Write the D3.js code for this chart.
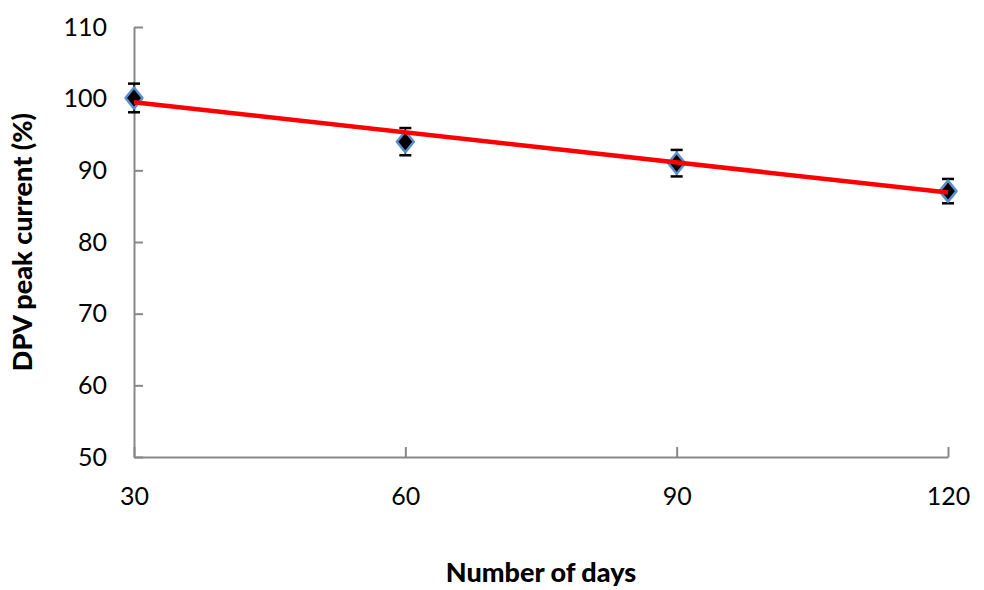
<!DOCTYPE html>
<html><head><meta charset="utf-8">
<script src="https://cdn.jsdelivr.net/npm/d3@7"></script>
<style>body{margin:0;background:#fff}svg{display:block}</style>
</head><body>
<svg id="c" width="984" height="590"></svg>
<script>
const days = [30, 60, 90, 120];
const current = [100.1, 94.0, 91.0, 87.1];
const errors = [2.0, 1.9, 1.85, 1.7];
const trendX = [30, 120];
const trendY = [99.5, 86.9];
const yTicks = [50, 60, 70, 80, 90, 100, 110];
const xTicks = [30, 60, 90, 120];

const svg = d3.select("#c");
const font = "Lato, 'Open Sans', sans-serif";
const x = d3.scaleLinear().domain([30, 120]).range([134, 948]);
const y = d3.scaleLinear().domain([50, 110]).range([457, 27]);

const gy = svg.append("g").attr("transform", "translate(134,0)")
  .call(d3.axisLeft(y).tickValues(yTicks).tickSize(-9).tickPadding(27).tickSizeOuter(0));
const gx = svg.append("g").attr("transform", "translate(0,457)")
  .call(d3.axisBottom(x).tickValues(xTicks).tickSize(-10).tickPadding(30).tickSizeOuter(0));
[gy, gx].forEach(g => {
  g.select(".domain").attr("stroke", "#888").attr("stroke-width", 2);
  g.selectAll(".tick line").attr("stroke", "#888").attr("stroke-width", 2);
  g.selectAll(".tick text").attr("fill", "#000").style("font-family", font).style("font-size", "25px");
});

// error bars
const eb = svg.append("g");
days.forEach((d, i) => {
  const cx = x(d), y0 = y(current[i] - errors[i]), y1 = y(current[i] + errors[i]);
  eb.append("line").attr("x1", cx).attr("x2", cx).attr("y1", y0).attr("y2", y1).attr("stroke", "#000").attr("stroke-width", 1.5);
  [y0, y1].forEach(yy => eb.append("line").attr("x1", cx - 6).attr("x2", cx + 6).attr("y1", yy).attr("y2", yy).attr("stroke", "#000").attr("stroke-width", 2.5));
});

// markers
svg.append("g").selectAll("path").data(days).join("path")
  .attr("transform", (d, i) => `translate(${x(d)},${y(current[i])})`)
  .attr("d", "M0,-10.5 L8.5,0 L0,10.5 L-8.5,0 Z")
  .attr("fill", "#000").attr("stroke", "#5B8FD0").attr("stroke-width", 2.5).attr("stroke-linejoin", "round");

// trend line
svg.append("line")
  .attr("x1", x(trendX[0])).attr("y1", y(trendY[0]))
  .attr("x2", x(trendX[1])).attr("y2", y(trendY[1]))
  .attr("stroke", "#FF0000").attr("stroke-width", 4.5);

svg.append("text").attr("x", 541).attr("y", 582).attr("text-anchor", "middle")
  .style("font-family", font).style("font-weight", "900").style("font-size", "27px").text("Number of days");
svg.append("text").attr("transform", "translate(32,242) rotate(-90)").attr("text-anchor", "middle")
  .style("font-family", font).style("font-weight", "900").style("font-size", "27px").text("DPV peak current (%)");
</script>
</body></html>
